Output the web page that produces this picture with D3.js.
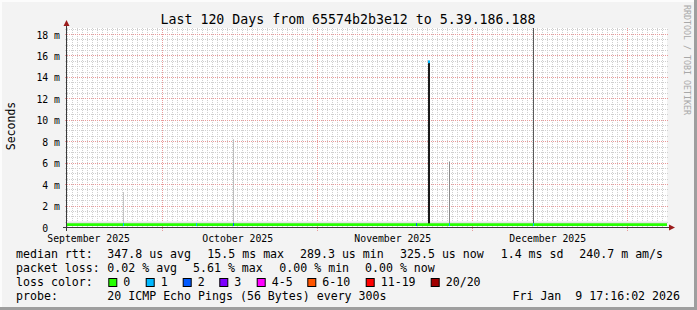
<!DOCTYPE html>
<html><head><meta charset="utf-8">
<script src="https://cdn.jsdelivr.net/npm/d3@7"></script>
<style>
html,body{margin:0;padding:0;background:#F3F3F3;}
svg{display:block;}
text{font-family:"DejaVu Sans Mono",monospace;white-space:pre;}
</style>
</head><body>
<svg id="chart" width="697" height="310"></svg>
<script>
// ---------------- data ----------------
const titleText = "Last 120 Days from 65574b2b3e12 to 5.39.186.188";
const yAxisTitle = "Seconds";
const watermark = "RRDTOOL / TOBI OETIKER";
const timeStart = "2025-09-11T22:34:00Z";
const timeEnd = "2026-01-09T22:34:00Z";
const yMax = 18.65;
const yTickValues = [0, 2, 4, 6, 8, 10, 12, 14, 16, 18];
const yTickLabels = ["0  ", "2 m", "4 m", "6 m", "8 m", "10 m", "12 m", "14 m", "16 m", "18 m"];
const monthLabels = ["September 2025", "October 2025", "November 2025", "December 2025"];
const monthLabelDates = ["2025-09-16T06:00:00Z", "2025-10-16T02:00:00Z", "2025-11-16T02:00:00Z", "2025-12-17T02:00:00Z"];
const majorGridDates = ["2025-10-01T00:00:00Z", "2025-11-01T00:00:00Z", "2025-12-02T00:00:00Z", "2026-01-02T00:00:00Z"];
// median rtt (ms) — essentially flat
const medianDates = ["2025-09-11T22:34:00Z", "2025-10-01T00:00:00Z", "2025-10-20T00:00:00Z", "2025-11-10T00:00:00Z", "2025-11-30T00:00:00Z", "2025-12-20T00:00:00Z", "2026-01-09T22:34:00Z"];
const medianValues = [0.32, 0.32, 0.32, 0.32, 0.32, 0.32, 0.32];
// smoke upper edge (ms)
const smokeTop = [0.6, 0.6, 0.6, 0.6, 0.6, 0.6, 0.6];
// smoke spikes (ms)
const spikeDates = ["2025-09-23T04:48:00Z", "2025-10-15T04:48:00Z", "2025-11-23T03:22:00Z", "2025-11-27T09:36:00Z", "2025-12-14T04:48:00Z"];
const spikeValues = [3.35, 8.27, 15.5, 6.2, 25];
const spikeShades = ["#C4C4C4", "#BDBDBD", "#1A1A1A", "#8A8A8A", "#5A5A5A"];
const spikeWidths = [1, 1, 2, 1, 1];
// loss events on the median line
const lossDates = ["2025-09-23T04:48:00Z", "2025-10-07T21:07:00Z", "2025-10-15T04:48:00Z", "2025-11-20T17:46:00Z", "2025-11-23T03:22:00Z", "2025-11-27T09:36:00Z", "2025-12-14T04:48:00Z"];
const lossLevels = [1, 1, 2, 2, 1, 1, 1];
const lossMedian = [0.32, 0.32, 0.32, 0.32, 15.5, 0.32, 0.32];
// legend
const lossLabels = ["0", "1", "2", "3", "4-5", "6-10", "11-19", "20/20"];
const lossColors = ["#26FF00", "#00B8FF", "#0059FF", "#7E00FF", "#FF00FF", "#FF5500", "#FF0000", "#A10000"];
const medianStats = ["347.8 us avg", "15.5 ms max", "289.3 us min", "325.5 us now", "1.4 ms sd", "240.7 m am/s"];
const lossStats = ["0.02 % avg", "5.61 % max", "0.00 % min", "0.00 % now"];
const probeText = "20 ICMP Echo Pings (56 Bytes) every 300s";
const stampText = "Fri Jan  9 17:16:02 2026";

// ---------------- layout ----------------
const W = 697, H = 310;
const L = 67, R = 667, T = 28, B = 228;
const svg = d3.select("#chart");
const P = d3.isoParse;

const x = d3.scaleUtc().domain([P(timeStart), P(timeEnd)]).range([L, R]);
const y = d3.scaleLinear().domain([0, yMax]).range([B, T]);
const px = d => Math.floor(x(P(d))) + 0.5;

// background + frame
svg.append("rect").attr("width", W).attr("height", H).attr("fill", "#F3F3F3");
svg.append("rect").attr("x", 0).attr("y", 0).attr("width", W).attr("height", 2).attr("fill", "#FCFCFC");
svg.append("rect").attr("x", 0).attr("y", 0).attr("width", 2).attr("height", H).attr("fill", "#FCFCFC");
svg.append("rect").attr("x", 0).attr("y", H - 3).attr("width", W).attr("height", 3).attr("fill", "#9E9E9E");
svg.append("rect").attr("x", W - 3).attr("y", 0).attr("width", 3).attr("height", H).attr("fill", "#9E9E9E");

// canvas
svg.append("rect").attr("x", L).attr("y", T).attr("width", R - L).attr("height", B - T).attr("fill", "#FFFFFF");

// grid
const grid = svg.append("g");
const minorY = d3.range(0.5, yMax, 0.5).filter(v => v % 2 !== 0);
grid.selectAll("line.my").data(minorY).join("line")
  .attr("x1", L - 2).attr("x2", R + 2)
  .attr("y1", d => Math.round(y(d)) - 0.5).attr("y2", d => Math.round(y(d)) - 0.5)
  .attr("stroke", "#CFCFCF").attr("stroke-dasharray", "1,1");
const days = d3.utcDay.range(P(timeStart), P(timeEnd));
grid.selectAll("line.mx").data(days).join("line")
  .attr("x1", d => Math.floor(x(d)) + 0.5).attr("x2", d => Math.floor(x(d)) + 0.5)
  .attr("y1", T).attr("y2", B)
  .attr("stroke", "#CFCFCF").attr("stroke-dasharray", "1,1");
grid.selectAll("line.My").data(yTickValues.filter(v => v > 0)).join("line")
  .attr("x1", L - 2).attr("x2", R + 2)
  .attr("y1", d => Math.round(y(d)) - 0.5).attr("y2", d => Math.round(y(d)) - 0.5)
  .attr("stroke", "#E89A9A").attr("stroke-dasharray", "1,1");
grid.selectAll("line.Mx").data(majorGridDates).join("line")
  .attr("x1", px).attr("x2", px)
  .attr("y1", T).attr("y2", B + 3)
  .attr("stroke", "#E89A9A").attr("stroke-dasharray", "1,1");

// plot content clipped
svg.append("clipPath").attr("id", "clip").append("rect").attr("x", L).attr("y", T).attr("width", R - L).attr("height", B - T);
const plot = svg.append("g").attr("clip-path", "url(#clip)");

const medianPts = medianDates.map((d, i) => ({d: P(d), v: medianValues[i], s: smokeTop[i]}));
plot.append("path").datum(medianPts)
  .attr("d", d3.area().x(p => x(p.d)).y0(p => y(p.v)).y1(p => y(p.s)).curve(d3.curveStepAfter))
  .attr("fill", "#E4E4E4");

// spikes
spikeDates.forEach((d, i) => {
  const xc = Math.floor(x(P(d)));
  plot.append("rect")
    .attr("x", xc).attr("width", spikeWidths[i])
    .attr("y", y(spikeValues[i])).attr("height", y(medianValues[0]) - y(spikeValues[i]))
    .attr("fill", spikeShades[i]);
});

// median line
plot.append("path").datum(medianPts)
  .attr("d", d3.line().x(p => x(p.d)).y(p => y(p.v)).curve(d3.curveStepAfter))
  .attr("fill", "none").attr("stroke", lossColors[0]).attr("stroke-width", 2.8);

// loss-coloured median segments
lossDates.forEach((d, i) => {
  const xc = Math.floor(x(P(d)));
  const w = spikeDates.indexOf(d) === 2 ? 2 : 1;
  plot.append("rect")
    .attr("x", xc).attr("width", w)
    .attr("y", y(lossMedian[i]) - 1.4).attr("height", 2.8)
    .attr("fill", lossColors[lossLevels[i]]);
});

// axes
const axisColor = "#3A3A3A";
svg.append("line").attr("x1", L - 0.5).attr("x2", L - 0.5).attr("y1", B + 3).attr("y2", T - 6)
  .attr("stroke", axisColor);
svg.append("line").attr("x1", L - 4).attr("x2", R + 3).attr("y1", B - 0.5).attr("y2", B - 0.5)
  .attr("stroke", axisColor);
svg.append("path").attr("d", `M${L - 3.5},${T - 2} L${L + 2.5},${T - 2} L${L - 0.5},${T - 8} Z`).attr("fill", "#9B1B1B");
svg.append("path").attr("d", `M${R + 2},${B - 3.5} L${R + 2},${B + 2.5} L${R + 8},${B - 0.5} Z`).attr("fill", "#9B1B1B");

// y tick labels
svg.selectAll("text.yl").data(yTickValues).join("text")
  .attr("x", 60).attr("y", d => y(d) + 3.6)
  .attr("text-anchor", "end").attr("font-size", "9.8px").attr("fill", "#000")
  .text((d, i) => yTickLabels[i]);

// x labels
svg.selectAll("text.xl").data(monthLabelDates).join("text")
  .attr("x", d => x(P(d))).attr("y", 241.5)
  .attr("text-anchor", "middle").attr("font-size", "9.8px").attr("fill", "#000")
  .text((d, i) => monthLabels[i]);

// title
svg.append("text").attr("x", 348).attr("y", 24).attr("text-anchor", "middle")
  .attr("font-size", "13.25px").attr("fill", "#000").text(titleText);

// y axis title
svg.append("text").attr("transform", "translate(15,126) rotate(-90)")
  .attr("text-anchor", "middle").attr("font-size", "11.5px").attr("fill", "#000").text(yAxisTitle);

// watermark
svg.append("text").attr("transform", "translate(684,60) rotate(90)")
  .attr("text-anchor", "middle").attr("font-size", "8.3px").attr("fill", "#A8A8A8").text(watermark);

// legend
const fs = "11.6px";
const leg = svg.append("g").attr("font-size", fs).attr("fill", "#000");
const row = [258, 272, 286, 300];
const medX = [107.3, 207.3, 300, 400, 500.7, 579.3];
const lossX = [107.3, 193, 279.3, 365];
leg.append("text").attr("x", 16).attr("y", row[0]).text("median rtt:");
medianStats.forEach((s, i) => leg.append("text").attr("x", medX[i]).attr("y", row[0]).text(s));
leg.append("text").attr("x", 16).attr("y", row[1]).text("packet loss:");
lossStats.forEach((s, i) => leg.append("text").attr("x", lossX[i]).attr("y", row[1]).text(s));
leg.append("text").attr("x", 16).attr("y", row[2]).text("loss color:");
const swX = [108.3, 145.7, 182.7, 219.3, 256.7, 307.3, 365.7, 430.7];
lossLabels.forEach((s, i) => {
  leg.append("rect").attr("x", swX[i] + 0.5).attr("y", 278.5).attr("width", 8).attr("height", 8)
    .attr("fill", lossColors[i]).attr("stroke", "#000").attr("stroke-width", 1);
  leg.append("text").attr("x", swX[i] + 15).attr("y", row[2]).text(s);
});
leg.append("text").attr("x", 16).attr("y", row[3]).text("probe:");
leg.append("text").attr("x", 107.3).attr("y", row[3]).text(probeText);
leg.append("text").attr("x", 680).attr("y", row[3]).attr("text-anchor", "end").text(stampText);
</script>
</body></html>
